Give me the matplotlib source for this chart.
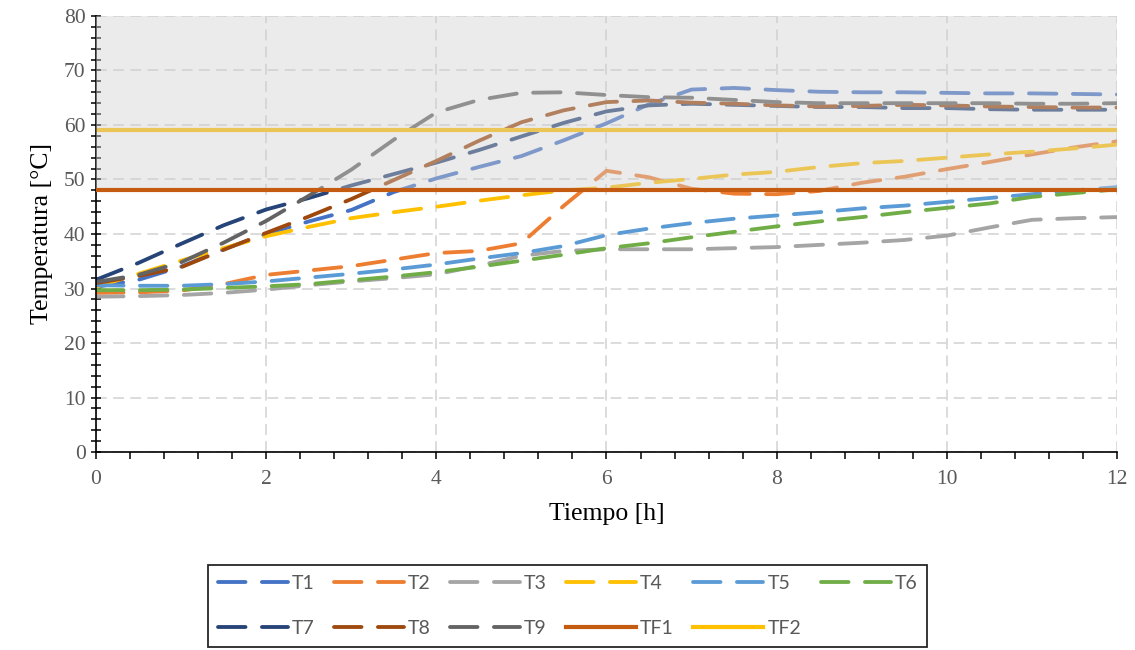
import numpy as np
import matplotlib
matplotlib.use("Agg")
import matplotlib.pyplot as plt
from matplotlib.ticker import MultipleLocator

plt.rcParams['font.family'] = ['Liberation Serif', 'DejaVu Serif']

# tiempo [h], cada media hora
tiempo = [0, 0.5, 1, 1.5, 2, 2.5, 3, 3.5, 4, 4.5, 5, 5.5, 6,
          6.5, 7, 7.5, 8, 8.5, 9, 9.5, 10, 10.5, 11, 11.5, 12]

T1 = [30.3, 31.6, 34.0, 37.2, 40.0, 42.3, 44.4, 47.7, 50.2, 52.3, 54.3, 57.2, 60.3,
      63.8, 66.5, 66.8, 66.4, 66.1, 66.0, 66.0, 65.9, 65.8, 65.8, 65.7, 65.6]
T2 = [29.2, 29.3, 29.6, 30.8, 32.5, 33.3, 34.1, 35.3, 36.5, 36.9, 38.3, 45.2, 51.6,
      50.4, 48.3, 47.4, 47.3, 47.9, 49.4, 50.5, 51.9, 53.2, 54.6, 55.9, 57.0]
T3 = [28.5, 28.6, 28.8, 29.2, 29.8, 30.6, 31.3, 31.9, 32.6, 34.2, 36.0, 36.9, 37.2,
      37.2, 37.2, 37.4, 37.6, 38.0, 38.4, 38.9, 39.7, 41.2, 42.6, 42.9, 43.1]
T4 = [30.3, 32.7, 35.1, 37.4, 39.6, 41.3, 42.9, 44.0, 45.0, 46.1, 47.1, 48.0, 48.5,
      49.4, 50.1, 50.9, 51.4, 52.3, 53.0, 53.4, 54.0, 54.6, 55.1, 55.7, 56.4]
T5 = [30.6, 30.5, 30.5, 30.8, 31.3, 32.0, 32.7, 33.5, 34.4, 35.5, 36.5, 37.8, 39.8,
      41.0, 42.0, 42.8, 43.4, 44.0, 44.7, 45.2, 45.9, 46.6, 47.3, 48.0, 48.6]
T6 = [29.7, 29.7, 29.8, 30.1, 30.4, 30.8, 31.5, 32.2, 33.0, 34.0, 35.1, 36.2, 37.4,
      38.3, 39.4, 40.4, 41.4, 42.3, 43.1, 44.0, 44.8, 45.6, 46.8, 47.5, 48.2]
T7 = [31.6, 34.7, 38.2, 41.6, 44.5, 46.6, 48.9, 51.0, 53.1, 55.4, 57.9, 60.4, 62.5,
      63.6, 63.9, 63.7, 63.5, 63.3, 63.3, 63.1, 63.1, 62.9, 62.8, 62.8, 62.8]
T8 = [31.0, 32.3, 33.9, 37.1, 40.2, 43.2, 46.4, 49.9, 53.4, 57.1, 60.5, 62.7, 64.2,
      64.5, 64.1, 63.9, 63.6, 63.4, 63.5, 63.7, 63.6, 63.4, 63.3, 63.2, 63.2]
T9 = [31.2, 32.5, 34.8, 38.4, 42.4, 47.0, 51.8, 57.3, 62.3, 64.6, 65.9, 66.0, 65.5,
      65.1, 65.0, 64.6, 64.2, 64.0, 64.0, 64.0, 64.0, 64.0, 63.9, 63.9, 64.0]

TF1 = 48
TF2 = 59

nombres = ['T1', 'T2', 'T3', 'T4', 'T5', 'T6', 'T7', 'T8', 'T9']
series = [T1, T2, T3, T4, T5, T6, T7, T8, T9]
colores = ['#4472C4', '#ED7D31', '#A5A5A5', '#FFC000', '#5B9BD5',
           '#70AD47', '#264478', '#9E480E', '#636363']

fig = plt.figure(figsize=(11.35, 6.5), dpi=100)
ax = fig.add_axes([0.0846, 0.3046, 0.8995, 0.6708])

lineas = {}
for nom, y, c in zip(nombres, series, colores):
    ln, = ax.plot(tiempo, y, color=c, lw=2.75, dashes=(7.2, 4.3),
                  dash_capstyle='round', label=nom, zorder=2)
    lineas[nom] = ln

lineas['TF2'] = ax.axhline(TF2, color='#FFC000', lw=3, label='TF2', zorder=2)
lineas['TF1'] = ax.axhline(TF1, color='#C55A11', lw=3, label='TF1', zorder=4)

# zona sombreada por encima de TF1
ax.fill_between([0, 12], TF1, 80, color='#d0d0d0', alpha=0.42, lw=0, zorder=3)

ax.set_xlim(0, 12)
ax.set_ylim(0, 80)
ax.xaxis.set_major_locator(MultipleLocator(2))
ax.xaxis.set_minor_locator(MultipleLocator(0.4))
ax.yaxis.set_major_locator(MultipleLocator(10))
ax.yaxis.set_minor_locator(MultipleLocator(2))

ax.grid(True, which='major', color='#d9d9d9', lw=1.3, dashes=(6, 3.5))
ax.set_axisbelow(True)
for s in ['top', 'right']:
    ax.spines[s].set_visible(False)
for s in ['left', 'bottom']:
    ax.spines[s].set_color('black')
    ax.spines[s].set_linewidth(1.2)

ax.tick_params(axis='x', which='both', direction='out', length=5, width=1.1,
               labelsize=15.5, labelcolor='#595959', pad=8)
ax.tick_params(axis='y', which='both', direction='inout', length=7, width=1.1,
               labelsize=15.5, labelcolor='#595959', pad=4)

ax.set_xlabel('Tiempo [h]', fontsize=18.5, labelpad=10)
ax.set_ylabel('Temperatura [°C]', fontsize=18.5, labelpad=8)

# la leyenda se llena por columnas: este orden da las dos filas del original
orden = ['T1', 'T7', 'T2', 'T8', 'T3', 'T9', 'T4', 'TF1', 'T5', 'TF2', 'T6']
leg = fig.legend([lineas[k] for k in orden], orden, loc='center',
                 bbox_to_anchor=(0.5, 0.0677), ncol=6, frameon=True,
                 fancybox=False, edgecolor='#262626', framealpha=1,
                 prop={'family': 'Lato', 'size': 14},
                 handlelength=3.6, handletextpad=0.2, columnspacing=1.0,
                 labelspacing=1.45, borderpad=0.5, borderaxespad=0)
leg.get_frame().set_linewidth(1.3)
for t in leg.get_texts():
    t.set_color('#595959')

fig.savefig('out.png', dpi=100)
